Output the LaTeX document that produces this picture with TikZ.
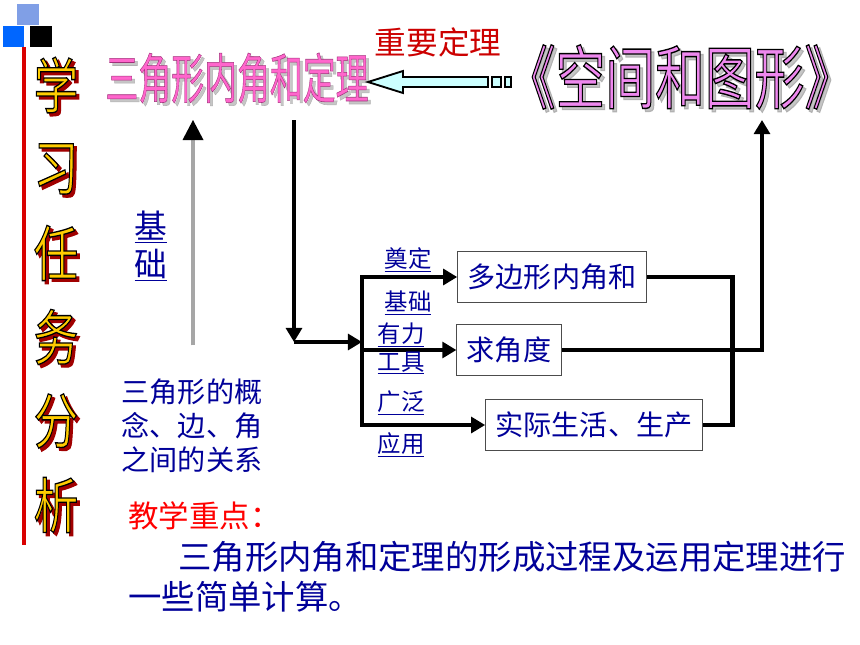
\documentclass[tikz,border=0pt]{standalone}
\usepackage{fontspec}
\setmainfont{Noto Sans CJK SC}
\newfontfamily\rimA[FakeBold=2.2]{Noto Sans CJK SC}
\newfontfamily\rimB[FakeBold=1.0]{Noto Sans CJK SC}
\newfontfamily\rimC[FakeBold=2.0]{Noto Sans CJK SC}
\usetikzlibrary{arrows.meta,calc}
\definecolor{navy}{HTML}{000099}
\definecolor{gold}{HTML}{FFCC00}
\definecolor{wine}{HTML}{A00000}
\definecolor{rose}{HTML}{FF66CC}
\definecolor{lilac}{HTML}{EE88EE}
\definecolor{skyarrow}{HTML}{CCFFFF}
\definecolor{tileA}{HTML}{809FE6}
\definecolor{tileB}{HTML}{0066FF}
\newcommand\fsz[2]{\fontsize{#1}{#2}\selectfont}
% stroke colour for outlined glyphs (fake bold is stroked)
\newcommand\rim[2]{\special{pdf:code #1 RG}#2}
\begin{document}
\begin{tikzpicture}[x=0.03cm,y=-0.03cm,
  txt/.style={inner sep=0pt},
  heavy/.style={line width=4pt},
  tipA/.tip={Triangle[length=12pt,width=13.5pt]},
  box/.style={draw=gray!60!black,line width=0.8pt,fill=white,inner xsep=8.5pt,
    minimum height=44,text=navy,font=\fsz{24pt}{28pt}},
  lbl/.style={txt,text=navy,font=\fsz{20pt}{24pt}},
  task/.style={txt,font=\rimA\fsz{38pt}{40pt},yscale=1.35},
  tri/.style={txt,font=\rimB\fsz{46pt}{48pt},xscale=0.61},
  space/.style={txt,font=\rimC\fsz{59pt}{60pt},xscale=0.72}]
\fill[white] (0,0) rectangle (860,645);
\useasboundingbox (0,0) rectangle (860,645);
% corner tiles and red rule
\fill[tileA] (17,4) rectangle (39,25);
\fill[tileB] (3,26) rectangle (24,47);
\fill[black] (30,26) rectangle (52,47);
\draw[line width=2.6pt,color=red!85!black] (24,47) -- (24,545);
% vertical title
\foreach \ch/\yy [count=\i] in {学/85,习/169,任/253,务/337,分/421,析/505}{
  \node[task,text=wine] at (59,\yy+3) {\rim{0.63 0 0}{\ch}};
  \node[task,text=gold] (task\i) at (56,\yy) {\rim{0 0 0}{\ch}};
}
% titles
\node[tri,text=gray!45] at (240,81) {\rim{0.7 0.7 0.7}{三角形内角和定理}};
\node[tri,text=rose] (tri) at (237,78) {\rim{0.63 0.19 0.48}{三角形内角和定理}};
\node[space,text=gray!45] at (683,80) {\rim{0.7 0.7 0.7}{《空间和图形》}};
\node[space,text=lilac] (space) at (680,77) {\rim{0 0 0}{《空间和图形》}};
\node[txt,text=red!80!black,font=\fsz{27pt}{30pt}] (key) at (438,42) {重要定理};
% block arrow
\draw[fill=skyarrow,line width=1.6pt,line join=miter]
  (368,82) -- (403,71) -- (403,77) -- (488,77) -- (488,87) -- (403,87) -- (403,93) -- cycle;
\draw[fill=skyarrow,line width=1.4pt] (492,77) rectangle (501,87);
\draw[fill=skyarrow,line width=1.4pt] (505,77) rectangle (511,87);
% basis
\node[txt,text=navy,align=left,font=\fsz{24pt}{29pt}] (basis) at (192,426)
  {三角形的概\\念、边、角\\之间的关系};
\node[txt,text=navy,align=center,font=\fsz{28pt}{32pt}] (found) at (151,246)
  {\underline{基}\\\underline{础}};
\coordinate (UpB) at (193,345);
\coordinate (UpT) at (193,140);
\draw[double=gray!70,double distance=2.6pt,line width=0.8pt] (UpB) -- (UpT);
\fill (UpT) ++(-10.5,0) -- (193,120) -- ++(10.5,20) -- cycle;
% boxes
\node[box] (poly) at (552,277) {多边形内角和};
\node[box] (ang) at (509,350) {求角度};
\node[box] (life) at (594,425) {实际生活、生产};
% main connectors
\coordinate (T) at (294,120);
\coordinate (C) at (294,342);
\coordinate (J) at (362,342);
\coordinate (U) at (762,120);
\draw[heavy,-{tipA}] (T) -- (C);
\draw[heavy,-{tipA}] (C) -- (J);
\draw[heavy,-{tipA}] (J |- life.west) |- (poly.west);
\draw[heavy,-{tipA}] (J |- poly.west) |- (life.west);
\draw[heavy,-{tipA}] (J |- ang.west) -- (ang.west);
\draw[heavy] (poly.east) -- ++(86,0) |- (life.east);
\draw[heavy,-{tipA}] (ang.east) -| (U);
% branch labels
\node[lbl] (l1) at (408,260) {\underline{奠定}};
\node[lbl] (l2) at (408,303) {\underline{基础}};
\node[lbl] (l3) at (401,335) {\underline{有力}};
\node[lbl] (l4) at (401,363) {\underline{工具}};
\node[lbl] (l5) at (401,403) {\underline{广泛}};
\node[lbl] (l6) at (401,445) {\underline{应用}};
% key point
\node[txt,anchor=west,text=red,font=\fsz{26pt}{30pt}] (focus) at (128,516) {教学重点：};
\node[txt,anchor=west,text=navy,font=\fsz{28.5pt}{32pt}] (focus1) at (178,557) {三角形内角和定理的形成过程及运用定理进行};
\node[txt,anchor=west,text=navy,font=\fsz{28.5pt}{32pt}] (focus2) at (128,597) {一些简单计算。};
\end{tikzpicture}
\end{document}
